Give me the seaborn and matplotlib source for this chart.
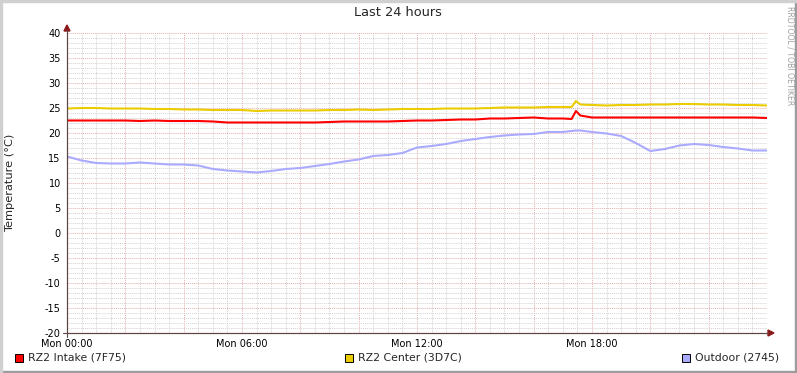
import matplotlib
matplotlib.use("Agg")
import matplotlib.pyplot as plt
import seaborn as sns
import pandas as pd
from matplotlib.patches import Rectangle
from matplotlib.ticker import MultipleLocator

# ---- data (hours since Mon 00:00, temperature in °C) ----
hours = [0, 0.5, 1, 1.5, 2, 2.5, 3, 3.5, 4, 4.5, 5, 5.5, 6, 6.5, 7, 7.5, 8, 8.5,
         9, 9.5, 10, 10.5, 11, 11.5, 12, 12.5, 13, 13.5, 14, 14.5, 15, 15.5, 16,
         16.5, 17, 17.3, 17.45, 17.6, 18, 18.5, 19, 19.5, 20, 20.5, 21, 21.5, 22,
         22.5, 23, 23.5, 24]
intake = [22.5, 22.5, 22.5, 22.5, 22.5, 22.4, 22.5, 22.4, 22.4, 22.4, 22.3, 22.1,
          22.1, 22.1, 22.1, 22.1, 22.1, 22.1, 22.2, 22.3, 22.3, 22.3, 22.3, 22.4,
          22.5, 22.5, 22.6, 22.7, 22.7, 22.9, 22.9, 23.0, 23.1, 22.9, 22.9, 22.8,
          24.4, 23.5, 23.1, 23.1, 23.1, 23.1, 23.1, 23.1, 23.1, 23.1, 23.1, 23.1,
          23.1, 23.1, 23.0]
center = [24.9, 25.0, 25.0, 24.9, 24.9, 24.9, 24.8, 24.8, 24.7, 24.7, 24.6, 24.6,
          24.6, 24.4, 24.5, 24.5, 24.5, 24.5, 24.6, 24.6, 24.7, 24.6, 24.7, 24.8,
          24.8, 24.8, 24.9, 24.9, 24.9, 25.0, 25.1, 25.1, 25.1, 25.2, 25.2, 25.2,
          26.4, 25.7, 25.6, 25.5, 25.6, 25.6, 25.7, 25.7, 25.8, 25.8, 25.7, 25.7,
          25.6, 25.6, 25.5]
outdoor = [15.3, 14.5, 14.0, 13.9, 13.9, 14.1, 13.9, 13.7, 13.7, 13.5, 12.8, 12.5,
           12.3, 12.1, 12.4, 12.8, 13.0, 13.4, 13.8, 14.3, 14.7, 15.4, 15.6, 16.0,
           17.1, 17.4, 17.8, 18.4, 18.8, 19.2, 19.5, 19.7, 19.8, 20.2, 20.2, 20.4,
           20.5, 20.5, 20.2, 19.9, 19.4, 18.0, 16.4, 16.8, 17.5, 17.8, 17.6, 17.2,
           16.9, 16.5, 16.5]
series_names = ["RZ2 Intake (7F75)", "RZ2 Center (3D7C)", "Outdoor (2745)"]
series_colors = ["#FF0000", "#EACC00", "#AAAAFF"]
x_tick_hours = [0, 6, 12, 18]
x_tick_labels = ["Mon 00:00", "Mon 06:00", "Mon 12:00", "Mon 18:00"]
y_ticks = [-20, -15, -10, -5, 0, 5, 10, 15, 20, 25, 30, 35, 40]

df = pd.concat([
    pd.DataFrame({"hour": hours, "temp": vals, "series": name})
    for name, vals in zip(series_names, [intake, center, outdoor])
], ignore_index=True)

sns.set_style("white")
plt.rcParams["font.family"] = ["DejaVu Sans"]

W, H = 797, 373
fig = plt.figure(figsize=(W / 100, H / 100), dpi=100)
fig.patch.set_facecolor("white")

def fx(px):
    return px / W

def fy(py):
    return 1 - py / H

ax = fig.add_axes([fx(67), fy(333), 700 / W, 300 / H])
ax.set_facecolor("white")

# grid
ax.set_xlim(0, 24)
ax.set_ylim(-20, 40)
ax.xaxis.set_minor_locator(MultipleLocator(0.5))
ax.yaxis.set_minor_locator(MultipleLocator(1))
ax.set_xticks([h for h in range(0, 24, 2)])
ax.set_xticklabels([x_tick_labels[x_tick_hours.index(h)] if h in x_tick_hours else ""
                    for h in range(0, 24, 2)])
ax.set_yticks(y_ticks)
ax.set_yticklabels([str(v) for v in y_ticks])
ax.grid(which="minor", color="#d2d2d2", linestyle=(0, (1, 1)), linewidth=0.7)
ax.grid(which="major", color="#e6b0b0", linestyle=(0, (1, 1)), linewidth=0.7)
ax.set_axisbelow(True)

sns.lineplot(data=df, x="hour", y="temp", hue="series", palette=series_colors,
             hue_order=series_names, linewidth=1.5, legend=False, ax=ax,
             sort=False, estimator=None)

for s in ["top", "right"]:
    ax.spines[s].set_visible(False)
for s in ["left", "bottom"]:
    ax.spines[s].set_color("#604545")
    ax.spines[s].set_linewidth(0.8)

ax.tick_params(axis="both", which="major", labelsize=7, length=3, width=0.7,
               color="#604545", direction="out", pad=1.5, labelcolor="black")
ax.tick_params(axis="y", which="minor", length=2, width=0.5, color="#c8c8c8")
ax.tick_params(axis="x", which="minor", length=0)
ax.set_xlabel("")
ax.set_ylabel("")

# arrows on axes
fig.add_artist(plt.Line2D([fx(63), fx(768)], [fy(333), fy(333)], color="#604545", lw=0.8))
fig.add_artist(plt.Line2D([fx(67), fx(67)], [fy(337), fy(30)], color="#604545", lw=0.8))
fig.add_artist(plt.Polygon([[fx(768), fy(330)], [fx(774), fy(333)], [fx(768), fy(336)]],
                           closed=True, color="#8b1a1a", transform=fig.transFigure))
fig.add_artist(plt.Polygon([[fx(64), fy(31)], [fx(67), fy(25)], [fx(70), fy(31)]],
                           closed=True, color="#8b1a1a", transform=fig.transFigure))

# titles
fig.text(fx(398), fy(13), "Last 24 hours", ha="center", va="center", fontsize=9.3)
fig.text(fx(10.5), fy(183), "Temperature (°C)", ha="center", va="center",
         rotation=90, fontsize=8.2)
fig.text(fx(790), fy(6), "RRDTOOL / TOBI OETIKER", ha="center", va="top",
         rotation=270, fontsize=5.6, color="#a0a0a0")

# legend
legend_x = [15, 345, 682]
for lx, name, col in zip(legend_x, series_names, series_colors):
    fig.add_artist(Rectangle((fx(lx), fy(362)), 8 / W, 8 / H, transform=fig.transFigure,
                             facecolor=col, edgecolor="black", linewidth=0.7))
    fig.text(fx(lx + 13), fy(358), name, ha="left", va="center", fontsize=7.8)

# frame
fig.add_artist(Rectangle((0, 0), 1, 2 / H, transform=fig.transFigure, color="#9c9c9c"))
fig.add_artist(Rectangle((1 - 2 / W, 0), 2 / W, 1, transform=fig.transFigure, color="#9c9c9c"))
fig.add_artist(Rectangle((0, 1 - 2 / H), 1, 2 / H, transform=fig.transFigure, color="#d0d0d0"))
fig.add_artist(Rectangle((0, 0), 2 / W, 1, transform=fig.transFigure, color="#d0d0d0"))

fig.savefig("out.png", dpi=100)
